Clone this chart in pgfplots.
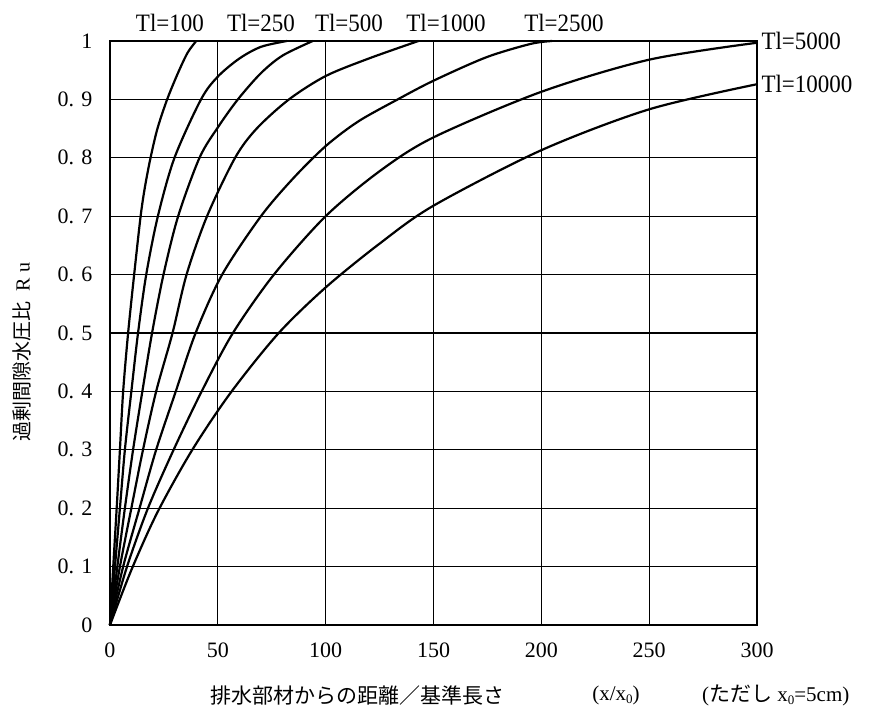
\documentclass[border=0pt]{standalone}
\usepackage{fontspec}
\usepackage{pgfplots}
\pgfplotsset{compat=1.18}
\setmainfont{Liberation Serif}
\newfontfamily\jp{Noto Sans CJK JP}
\newfontfamily\lab[FakeStretch=0.92]{Liberation Serif}
\newcommand{\sub}[1]{\raisebox{-0.35ex}{\fontsize{13}{13}\selectfont #1}}

\begin{document}
\begin{tikzpicture}
\useasboundingbox (-110pt,-95pt) rectangle (768pt,625pt);
\begin{axis}[
  at={(0pt,0pt)}, anchor=south west,
  scale only axis,
  width=647pt, height=584pt,
  xmin=0, xmax=300, ymin=0, ymax=1,
  clip=false,
  axis line style={line width=2.2pt},
  xtick={0,50,100,150,200,250,300},
  xticklabels={0,50,100,150,200,250,300},
  ytick={0,0.1,0.2,0.3,0.4,0.5,0.6,0.7,0.8,0.9,1},
  yticklabels={0,0. 1,0. 2,0. 3,0. 4,0. 5,0. 6,0. 7,0. 8,0. 9,1},
  major tick length=0pt,
  grid=major,
  major grid style={black, line width=1.3pt},
  xticklabel style={font=\fontsize{22}{24}\selectfont, yshift=-14pt},
  yticklabel style={font=\fontsize{22}{24}\selectfont, xshift=-14pt},
  curve/.style={black, solid, line width=2.2pt, smooth, tension=0.5, mark=none},
]
% Tl = 100
\addplot[curve] coordinates {(0,0) (1.5,0.1) (3.1,0.2) (4.6,0.3) (6.1,0.4) (8.4,0.5) (11.2,0.6) (14.2,0.7) (16.2,0.75) (18.8,0.8) (22,0.85) (26.5,0.9) (31.5,0.945) (36,0.98) (40,1.0)};
% Tl = 250
\addplot[curve] coordinates {(0,0) (2.3,0.1) (4.6,0.2) (6.9,0.3) (9.9,0.4) (13,0.5) (16.8,0.6) (22.2,0.7) (29.9,0.8) (42.2,0.9) (50,0.939) (60,0.97) (70,0.99) (82,1.0)};
% Tl = 500
\addplot[curve] coordinates {(0,0) (3.4,0.1) (6.9,0.2) (10.7,0.3) (15,0.4) (19.5,0.5) (24.8,0.6) (31.6,0.7) (41.5,0.8) (50,0.852) (59.3,0.9) (70,0.945) (80,0.975) (94,1.0)};
% Tl = 1000
\addplot[curve] coordinates {(0,0) (4.6,0.1) (9.9,0.2) (15.3,0.3) (21.4,0.4) (29,0.5) (35.5,0.6) (45,0.7) (58,0.8) (68,0.85) (83,0.9) (100,0.94) (120,0.97) (143,1.0)};
% Tl = 2500
\addplot[curve] coordinates {(0,0) (6.1,0.1) (13.7,0.2) (21.4,0.3) (30.5,0.4) (39.7,0.5) (52,0.6) (70,0.7) (85,0.765) (100,0.82) (115,0.862) (133.4,0.9) (150,0.932) (174.4,0.972) (195,0.995) (205,1.0)};
% Tl = 5000
\addplot[curve] coordinates {(0,0) (7.9,0.1) (17.6,0.2) (29.5,0.3) (42.5,0.4) (57,0.5) (76,0.6) (100,0.7) (125,0.777) (150,0.835) (200,0.913) (250,0.968) (300,0.997)};
% Tl = 10000
\addplot[curve] coordinates {(0,0) (10,0.095) (22,0.193) (38,0.299) (56,0.398) (78,0.499) (100,0.578) (125,0.653) (150,0.718) (200,0.813) (250,0.883) (300,0.926)};

% curve labels
\begin{scope}[every node/.style={font=\lab\fontsize{25}{27}\selectfont, inner sep=0pt}]
\node at (axis cs:27.8,1.031) {Tl=100};
\node at (axis cs:70,1.031) {Tl=250};
\node at (axis cs:110.8,1.031) {Tl=500};
\node at (axis cs:155.8,1.031) {Tl=1000};
\node at (axis cs:210.5,1.031) {Tl=2500};
\node[anchor=west] at (axis cs:302,1.0) {Tl=5000};
\node[anchor=west] at (axis cs:302,0.926) {Tl=10000};
\end{scope}

% axis titles
\node[rotate=90, font=\fontsize{20}{22}\selectfont, inner sep=0pt] at (rel axis cs:-0.136,0.4675) {{\jp 過剰間隙水圧比}\ \ R\ u};
\node[font=\jp\fontsize{21}{23}\selectfont, inner sep=0pt] at (rel axis cs:0.3825,-0.12) {排水部材からの距離／基準長さ};
\node[font=\fontsize{21}{23}\selectfont, inner sep=0pt] at (rel axis cs:0.782,-0.12) {(x/x\sub{0})};
\node[font=\fontsize{21}{23}\selectfont, inner sep=0pt] at (rel axis cs:1.029,-0.12) {({\jp ただし} x\sub{0}=5cm)};
\end{axis}
\end{tikzpicture}
\end{document}
